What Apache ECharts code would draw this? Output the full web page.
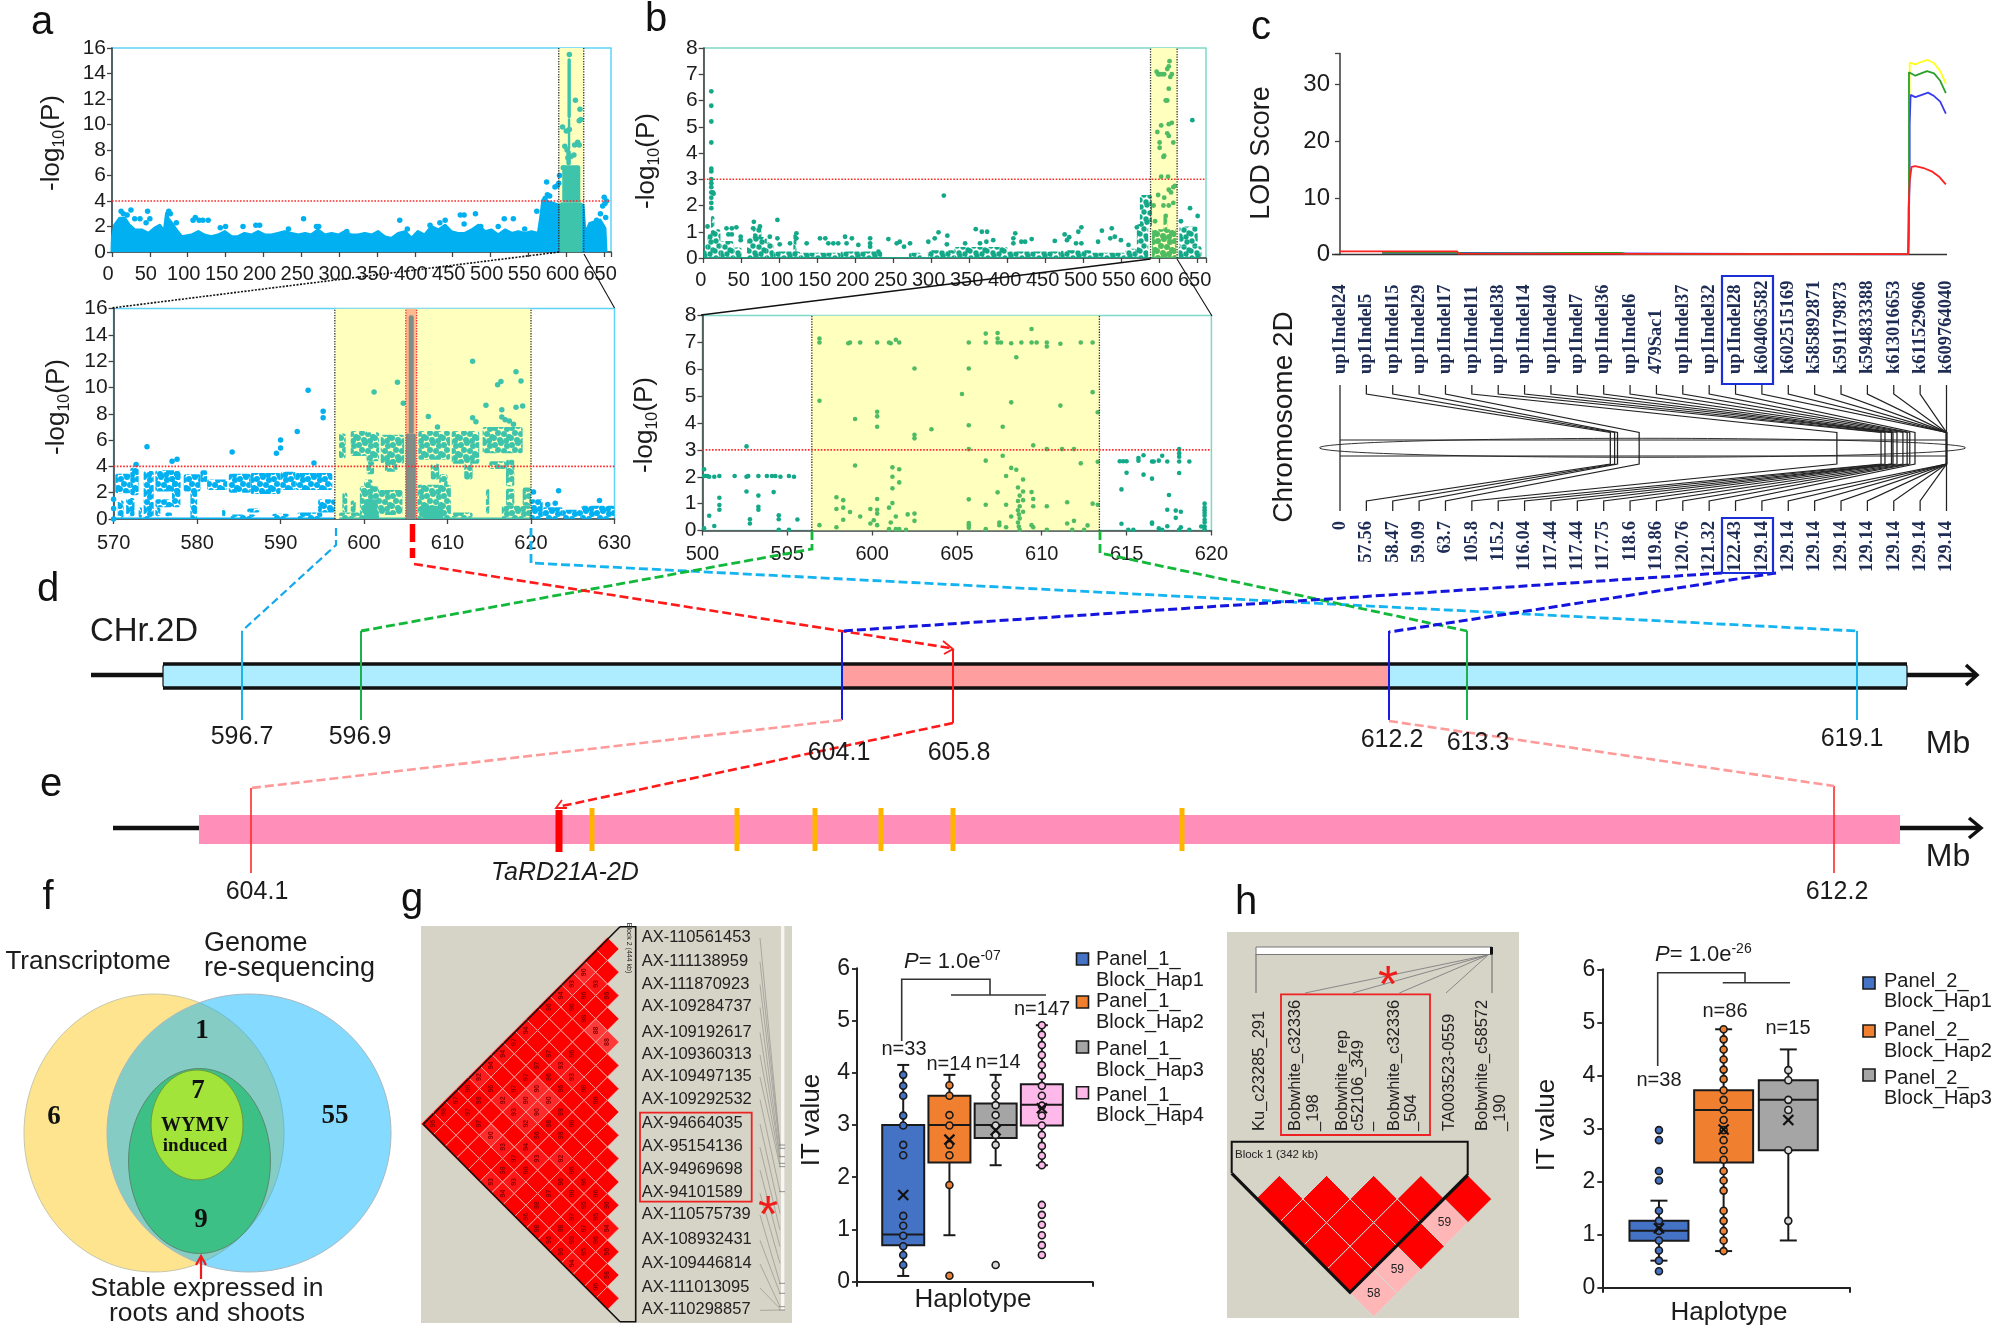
<!DOCTYPE html>
<html><head><meta charset="utf-8">
<style>html,body{margin:0;padding:0;background:#fff}#c{width:2000px;height:1331px}</style>
<script src="https://cdn.jsdelivr.net/npm/echarts@6/dist/echarts.min.js"></script>
</head><body><div id="c"></div>
<script>
/* ---------- DATA ---------- */
const aTopEnvelope=[[0,0],[.5,1.07],[3.5,2.1],[10,2.64],[17,2.64],[23,2.1],[30,1.73],[39,1.73],[48,1.46],[56,1.86],[63,2.1],[69,1.6],[72,3.03],[74,2.64],[81,2.1],[85,1.73],[92,1.2],[105,1.33],[114,1.6],[122,1.33],[131,1.2],[140,1.33],[149,1.6],[158,1.2],[166.5,1.2],[175,1.46],[184,1.33],[193,1.6],[202,1.33],[210.6,1.33],[219,1.46],[228,1.6],[237,1.46],[246,1.33],[255,1.46],[263,1.33],[272,1.73],[281,1.33],[290,1.46],[299,1.33],[307.5,1.6],[316,1.33],[325,1.33],[334,1.46],[343,1.33],[351.5,1.6],[360,1.2],[369,1.07],[378,1.46],[387,1.6],[395.6,1.07],[404,1.6],[413,1.33],[422,2],[431,1.73],[440,2.1],[448,1.6],[457,1.46],[466,1.46],[475,1.73],[484,2.1],[492.5,1.6],[501,1.73],[510,1.33],[519,1.73],[528,1.46],[536.6,1.6],[545,1.46],[554,1.6],[563,1.46],[566,2.64],[569,4.08],[576,3.95],[589,3.69],[622,3.69],[624,2],[625,1.46],[631,2.25],[638,2.38],[644.5,2.5],[651,1.86],[652.4,0]];
const aTopBlueDots=[[15,3],[12,3.2],[25,3.3],[20,2.9],[30,2.6],[37,2.6],[47,3.2],[45,2.3],[50,2.6],[75,3.2],[77,3],[85,2.3],[107,2.5],[110,2.7],[115,2.5],[120,2.5],[127,2.5],[143,1.9],[150,2],[173,2],[190,2.1],[195,2.1],[233,1.8],[253,2.6],[270,2],[273,2],[310,1.6],[380,2.5],[390,1.8],[420,2.1],[433,2.3],[440,2.5],[460,2.9],[465,2.9],[480,3],[465,2.2],[487,2],[510,2],[518,2.6],[530,2.6],[545,1.8],[561,3.2],[574,5.5],[572,4.2],[575,4.5],[578,4.4],[585,5.1],[590,5.4],[591,6],[588,5.2],[630,1.4],[640,2.5],[643,2.3],[645,3],[650,4.3],[651,3.8],[648,3.6],[653,4],[652,2.7]];
const aTopGreenBands=[[591.5,621,0,3.9],[594.6,618.4,3.9,6.8],[600,606,6.8,8],[602,605.2,8,10.5],[601.5,606,10.5,15.2]];
const aTopGreenDots=[[595,9.8],[600,9.5],[601,8],[602,7.4],[598,8.3],[596,6.6],[604,9.6],[612,11.9],[618,11.2],[619,10.4],[617,10.3],[615,8.6],[617,8.4],[611,8.4],[610,7.6],[606,7.5],[604,15.5]];
const aBotBlueBands=[[570.2,572,1.95,3.45],[572,573,1.8,3.9],[573.6,574.8,0,3.65],[575,578,2.1,3.7],[577,578,.9,3.7],[578.4,580.4,2.1,3.4],[579.2,580,0,2.2],[580.4,581.2,2.8,3.7],[581.2,583.6,2.2,3],[583.8,586.4,2,3.45],[586.4,590,1.9,3.5],[590,591.8,2.2,3.6],[591.8,596.2,2.2,3.5],[570.5,571.2,.1,1.4],[571.5,572.5,.2,1.6],[573,573.4,.1,.9],[575,577,.9,1.5],[575,575.6,.2,.9],[576.2,577,.2,.5],[583,583.4,.2,.8],[584,587,.05,.35],[586,587.5,.5,.8],[589,591,.05,.4],[592,595,.05,.5],[594.5,596.5,.5,1.5],[620,621.4,0,1.5],[621.4,623.8,0,.9],[623.8,626,0,.7],[626,630,0,1]];
const aBotBlueBase=[[570,596.5,0,.12]];
const aBotBlueDots=[[593.3,9.8],[595.1,8.2],[595.1,7.7],[592,6.65],[590,6],[590,5.4],[589.5,5],[584.2,5.1],[574,5.5],[572.7,4.15],[577,4.4],[577.6,4.55],[594,4.25],[623.3,2.15],[620.3,2.05],[622,1.1],[622.9,1.2],[628.2,1.4],[570,1.5],[570,.8],[570,0]];
const aBotTealBands=[[597,597.8,4.6,6.5],[598.4,600.4,4.8,6.7],[600.3,601.8,4.4,6.6],[602,604.8,4.2,6.4],[606.5,610.3,4.5,6.7],[610.5,613.8,4.2,6.7],[614.2,619,5,7],[600.3,601.2,3.4,4.4],[602.5,604,3.6,4.6],[608,609,3,4.2],[612,613,3,4.2],[617,618,2.5,4.5],[615,617,3.8,4.4],[600,601,1.8,3],[609,610,2.5,3.4],[599.5,601.8,0,2.5],[601.8,604.6,.3,2.2],[606.4,610.4,0,2.6],[610.5,613,.1,.5],[614.6,615,.4,2.3],[616.5,620,0,1],[617,618,1,2.3],[619,620,1,2.4],[597,599.5,0,.5],[597.4,598,.5,2],[598.4,599,.5,1.4]];
const aBotTealSolid=[[597,620,0,.12],[600,601.6,0,1.5],[607,609.5,0,1]];
const aBotTealDots=[[601.2,9.65],[604,10.4],[604.7,8.8],[607.7,7.8],[613,12],[616,10.2],[616.4,10.45],[618.2,11.2],[618.8,10.5],[614.6,8.65],[616.5,8.3],[618.2,8.5],[619,8.6],[616.5,7.75],[613,7.7],[613.4,7.4],[616.9,7.55],[617.4,7.45],[617.9,7.2],[608.8,7]];
const aBotGrayBands=[[605.35,605.95,6.5,15.5],[605,606.2,0,6.5]];
const bTopBands=[[0,5,0,.6],[5,11,0,.95],[11,22,0,1.1],[9.5,14,.9,1.6],[22,39,0,.65],[39,50,0,.4],[57,83,0,.8],[65,76,.7,1.25],[83,92,0,.6],[92,127,0,.25],[118,122,.2,.95],[127,180,0,.2],[180,235,0,.25],[270,287,0,.2],[295,330,0,.3],[330,400,0,.42],[400,470,0,.25],[470,510,0,.3],[510,555,0,.2],[555,570,0,.35],[570,585,0,1.3],[574,590,1.2,2.4],[625,655,0,.45],[626,650,.45,1.2]];
const bTopGreenBands=[[590,622,0,1.1],[605,610,1,1.6]];
const bTopDots=[[135.5,.56],[153,.75],[160,.75],[164,.56],[170.6,.56],[177,.56],[186,.81],[188,.56],[195,.75],[203.5,.5],[219,.75],[219,.56],[219,.43],[230,.24],[243,.72],[254,.56],[258,.62],[263.6,.43],[271.5,.56],[295.6,.62],[304,.75],[309,.98],[320.6,.85],[320,.52],[344,.56],[358,1.1],[366,1],[373,1],[410,.94],[407.5,.75],[407.5,.56],[418,.62],[423,.62],[431.6,.72],[381,.68],[372,.62],[363.6,.56],[462,.65],[475,.9],[481,.79],[478,.68],[490,.56],[497,.56],[493,1],[497,1.17],[524,1.04],[537,1.13],[541,.81],[535,.75],[549,.68],[519,.62],[559,.5],[48.7,.81],[48.7,.68],[97,1.45],[30,1.13],[37,1.13],[43,1.17],[32.5,.9],[37,.9],[65,1.13],[66,1.38],[74,1.2],[87,.81],[97,.75],[100,.52],[113.6,.56],[122,.94],[122,.75],[570,1.17],[5,1.2],[10,1.9],[10,2.1],[10,2.3],[10,2.5],[10,2.7],[10,2.85],[10,3],[10,3.3],[10,3.4],[10,4.4],[10,5.2],[10,5.8],[10,6.35],[12,2.5],[13,2.45],[316,2.38],[628,1.4],[640,1.9],[650,1.6],[643,5.25]];
const bTopGreenDots=[[596,7.1],[598,7],[600,7],[603,7],[606,7],[610,7.2],[612,7.3],[613,7.5],[616,7],[614,6.9],[612,6.45],[608,6],[610,6],[597,4.8],[602,5.05],[612,5.1],[616,5.15],[610,4.75],[612,4.65],[618,4.4],[600,4.4],[600,4.2],[605,3.85],[606,3.9],[602,3.1],[611,3.1],[598,2.4],[605,2],[606,2.3],[612,2.6],[615,2.5],[618,2.7],[620,2.75],[618,2.1],[608,1.6],[612,2],[592,2],[594,1.4]];
const bBotLeft=[[590.1,2.03],[590.2,2.03],[590.3,2.03],[590.4,2],[590.7,2],[591,2.03],[591.9,2.03],[592.6,2],[592.7,2.03],[593.3,2.03],[593.8,2.03],[594.1,2.03],[594.3,2.03],[594.6,2],[595.1,2.03],[595.4,2],[590.1,2.28],[592.6,3.13],[590.4,.55],[590.7,.17],[590.1,.08],[591,1.22],[591,.95],[591,.77],[592.6,1.45],[592.8,.42],[592.8,.26],[593.3,1.3],[593.3,.88],[593.3,.77],[594.2,1.43],[594.5,.57],[594.5,.42],[595.6,.41],[594.5,.03],[595.1,.03]];
const bBotMid=[[596.9,7],[596.9,7.15],[598.6,6.97],[598.7,7],[599.3,7],[600.3,7],[601,7],[601.1,6.97],[601.4,7.1],[601.6,7],[605.7,7],[606.7,7],[606.7,7.33],[607.4,7],[607.4,7.35],[607.4,7.15],[607.6,7],[608.2,6.97],[608.8,7],[609.4,7],[609.7,7],[610.3,7],[610.3,6.85],[611.1,6.95],[612.3,7],[613,7],[609.4,7.5],[608.5,6.45],[602.5,6.03],[605.7,6.03],[605.3,5.08],[613,5.15],[596.9,4.83],[608.2,4.77],[611.1,4.65],[600.3,4.42],[600.3,4.25],[613.3,4.4],[599,4.15],[600.3,3.86],[605.7,3.92],[607.7,3.86],[603.5,3.77],[602.5,3.56],[602.5,3.43],[609.5,3.17],[605.7,3.03],[610.3,3.03],[611.2,3.03],[611.9,3.03],[606.7,2.6],[607.7,2.78],[612.3,2.5],[613.3,2.56],[599,2.42],[601.2,2.35],[601.6,2.28],[608.2,2.33],[608.5,2.26],[601.2,2],[607.9,2.03],[608.9,1.9],[601.6,1.79],[601.2,1.57],[597.9,1.24],[598.3,1.13],[600.3,1.17],[605.7,1.16],[607.4,1.42],[609.4,1.43],[609.5,1.17],[608.9,1.13],[611.5,1.05],[601.2,1.02],[606.7,.96],[607.9,.96],[609.5,.9],[610.3,.9],[613,1],[613.3,.96],[598.3,.85],[597.9,.8],[599.9,.8],[600.3,.77],[601,.85],[598.7,.69],[600.3,.63],[602.1,.6],[602.5,.63],[599.3,.52],[601.4,.52],[598.3,.4],[600.1,.38],[602.5,.36],[601.1,.3],[608.2,.52],[608.6,1.6],[608.7,1.3],[608.6,1.1],[608.7,.9],[608.6,.75],[608.65,.6],[608.7,.45],[608.6,.3],[608.65,.15],[608.7,.03],[608.9,1.45],[608.9,.7],[611.5,.26],[611.9,.36],[612.7,.19],[596.9,.2],[597.9,.12],[599.9,.26],[600.3,.2],[605.7,.1],[605.7,.2],[605.7,.28],[607.5,.3],[607.5,.2],[607.9,.12],[609.4,.2],[609.5,.12],[610.3,.03],[611.8,.03],[612.5,.03],[602,.03],[601.4,.05],[601.6,.05],[601,.05],[606.7,.05]];
const bBotRight=[[614.6,2.58],[614.8,2.58],[615,2.58],[615.7,2.6],[615.7,2.7],[616,2.8],[616.5,2.57],[616.6,2.57],[616.9,2.6],[617.1,2.78],[617.4,2.57],[618.1,2.57],[618.1,2.75],[618.1,3.03],[618.1,2.88],[618.7,2.57],[615,2.15],[616,2.08],[616.5,1.93],[618.1,2.14],[614.7,1.53],[617.5,1.32],[617.4,.77],[617.9,.74],[618.2,.7],[617.9,.47],[614.7,.25],[616.5,.3],[616.5,.25],[617.4,.16],[616.9,.08],[617.1,.03],[615.1,.03],[615.4,.03],[618.2,.12],[618.1,.03],[618.7,.03],[619.6,1],[619.6,.85],[619.6,.75],[619.6,.65],[619.6,.55],[619.6,.4],[619.6,.3],[619.6,.15],[619.6,.05],[619.4,.15]];

const markerNames=['up1Indel24','up1Indel5','up1Indel15','up1Indel29','up1Indel17','up1Indel11','up1Indel38','up1Indel14','up1Indel40','up1Indel7','up1Indel36','up1Indel6','479Sac1','up1Indel37','up1Indel32','up1Indel28','k604063582','k602515169','k585892871','k591179873','k594833388','k613016653','k611529606','k609764040'];
const markerCM=[0,57.56,58.47,59.09,63.7,105.8,115.2,116.04,117.44,117.44,117.75,118.6,119.86,120.76,121.32,122.43,129.14,129.14,129.14,129.14,129.14,129.14,129.14,129.14];
const lodYellow=[[121.25,25],[121.3,33.9],[122.5,33.6],[124,34.1],[125.1,34.4],[126.5,33.8],[127.8,32.4],[129,30.2]];
const lodGreen=[[9,.35],[25,.35],[26,.2],[40,.2],[49,.3],[60,.3],[61,.05],[121,.05],[121.15,4],[121.15,32.2],[122.5,31.6],[124,32.1],[125,32.4],[126.5,32],[127.8,30.7],[129,28.5]];
const lodBlue=[[9,.3],[25,.3],[121,.03],[121.3,14],[121.3,23],[121.5,28.2],[122.5,27.8],[124.5,28.4],[125.2,28.6],[126.5,28],[127.8,27],[129,24.9]];
const lodRed=[[0,.55],[25,.55],[25.1,.15],[60,.1],[121,.05],[121.05,8],[121.3,13],[121.7,15.5],[122.5,15.6],[124.5,15.2],[126,14.7],[127.5,13.8],[129,12.4]];

const chromoDLabels=['596.7','596.9','604.1','605.8','612.2','613.3','619.1'];
const axG=['AX-110561453','AX-111138959','AX-111870923','AX-109284737','AX-109192617','AX-109360313','AX-109497135','AX-109292532','AX-94664035','AX-95154136','AX-94969698','AX-94101589','AX-110575739','AX-108932431','AX-109446814','AX-111013095','AX-110298857'];
const ldGLow=[[0,3,90],[0,4,93],[1,3,93],[0,5,94],[1,4,96],[2,3,96],[0,6,96],[1,5,96],[2,5,98],[3,5,88],[4,5,88],[0,8,94],[0,9,97],[2,8,97],[3,7,96],[0,10,94],[0,11,94],[2,9,97],[3,8,93],[0,12,92],[2,10,97],[3,9,96],[4,8,93],[0,13,98],[1,12,96],[2,11,97],[3,10,90],[4,9,96],[5,8,98],[0,14,97],[1,13,98],[2,12,92],[3,11,90],[4,10,90],[6,8,98],[0,15,98],[1,14,97],[3,12,93],[4,11,90],[5,10,98],[0,16,96],[2,14,97],[4,12,92],[5,11,98],[6,10,98],[3,14,90],[5,12,96],[6,11,98],[4,14,93],[5,13,94],[5,14,97],[6,13,93],[7,12,92],[5,15,98],[6,14,98],[8,12,96],[5,16,93],[6,15,93],[8,13,96],[9,12,96],[6,16,94],[8,14,97],[9,13,98],[10,12,96],[8,15,98],[10,13,95],[11,12,96],[8,16,96],[10,14,97],[11,13,95],[9,16,98],[10,15,98],[11,14,97],[12,13,94],[10,16,96],[11,15,98],[12,14,96],[11,16,96],[12,15,95],[13,14,96],[12,16,94],[14,15,98],[14,16,96]];
const ldHLow=[[0,5,58],[1,5,59],[3,5,59]];

const hapColors1=['#4472c4','#f08030','#a5a5a5','#ffb8ea'];
const hapColors2=['#4472c4','#f08030','#a5a5a5'];
const box1=[[1,.11,.7,.906,3,4.15,1.66],[2,.89,2.28,3,3.56,3.96,2.72],[3,2.23,2.75,3,3.41,3.96,2.9],[4,2.23,2.99,3.39,3.78,4.91,3.32]];
const box1Pts=[[3.96,3.75,3.56,3.18,2.99,2.62,2.42,1.26,1.07,.88,.68,.51,.32],[3.76,3.56,3.19,2.99,2.62,2.42,1.85,.115],[3.76,3.56,3.38,3.19,2.99,2.81,2.62,.32],[4.91,4.73,4.53,4.34,4.15,3.94,3.75,3.56,3.37,3.18,2.99,2.81,2.6,2.41,2.23,1.47,1.28,1.09,.89,.7,.51]];
const box2=[[.876,.51,.886,1.074,1.263,1.64,1.12],[1.876,.69,2.36,3.35,3.72,4.87,2.98],[2.876,.89,2.59,3.54,3.91,4.49,3.16]];
const box2Pts=[[2.97,2.78,2.2,2.02,1.45,1.26,1.07,.89,.7,.51,.31],[4.87,4.68,4.49,4.3,4.11,3.93,3.72,3.54,3.35,3.16,2.97,2.78,2.59,2.41,2.2,2.02,1.83,1.45,1.26,1.07,.89,.69],[4.1,3.91,3.54,3.35,2.59,1.26]];

/* ---------- helpers ---------- */
const SANS='"Liberation Sans",Arial,sans-serif', SERIF='"Liberation Serif",serif', INK='#1c1c1c';
const grids=[],xAxes=[],yAxes=[],series=[],gfx=[];
function addGrid(l,t,r,b,border){grids.push({left:l,top:t,width:r-l,height:b-t,show:!!border,borderColor:border||'transparent',borderWidth:1.5,backgroundColor:'transparent',containLabel:false});return grids.length-1;}
function dotTile(color,r){const c=document.createElement('canvas');c.width=c.height=17;const g=c.getContext('2d');g.fillStyle=color;
 const base=[[2,3],[8,1],[14,4],[5,8],[11,9],[16,12],[1,13],[7,15],[13,16]];
 base.forEach(p=>[-17,0,17].forEach(dx=>[-17,0,17].forEach(dy=>{g.beginPath();g.arc(p[0]+dx,p[1]+dy,r,0,7);g.fill();})));return{image:c,repeat:'repeat'};}
function bands(g,x,y,data,fill,z){series.push({type:'custom',xAxisIndex:x,yAxisIndex:y,z:z,silent:true,clip:true,data:data,encode:{x:[0,1],y:[2,3]},
 renderItem:(p,api)=>{const a=api.coord([api.value(0),api.value(3)]),b=api.coord([api.value(1),api.value(2)]);
  return{type:'rect',shape:{x:a[0],y:a[1],width:b[0]-a[0],height:b[1]-a[1],r:2},style:{fill:fill}};}});}
function dots(x,y,data,color,size,z){series.push({type:'scatter',xAxisIndex:x,yAxisIndex:y,z:z,silent:true,symbolSize:size,itemStyle:{color:color,opacity:1},data:data,clip:false});}
function ln(x,y,pts,color,w,type,z){series.push({type:'line',xAxisIndex:x,yAxisIndex:y,z:z,silent:true,showSymbol:false,symbol:'none',lineStyle:{color:color,width:w,type:type||'solid'},data:pts,animation:false});}
function axisBase(extra){return Object.assign({type:'value',splitLine:{show:false},axisLine:{show:true,onZero:false,lineStyle:{color:'#444',width:1.6}},axisTick:{show:true,length:5,lineStyle:{color:'#444',width:1.3}},axisLabel:{color:INK,fontFamily:SANS,fontSize:21,margin:6,hideOverlap:false}},extra);}
function addPlot(g,xopt,yopt){xAxes.push(axisBase(Object.assign({gridIndex:g,position:'bottom'},xopt)));yAxes.push(axisBase(Object.assign({gridIndex:g,position:'left'},yopt)));return[xAxes.length-1,yAxes.length-1];}
const T=(text,x,y,size,o={})=>gfx.push({type:'text',x:x,y:y,rotation:o.rot||0,z:o.z||20,silent:true,style:{text:text,fill:o.color||INK,align:o.align||'center',verticalAlign:'middle',font:(o.style?o.style+' ':'')+size+'px '+(o.family||SANS),rich:o.rich}});
const L=(pts,color,w,dash,z)=>gfx.push({type:'polyline',silent:true,z:z==null?15:z,shape:{points:pts},style:{stroke:color,lineWidth:w,lineDash:dash||null,fill:null}});
const R=(x,y,w,h,fill,stroke,lw,z,r)=>gfx.push({type:'rect',silent:true,z:z==null?1:z,shape:{x:x,y:y,width:w,height:h,r:r||0},style:{fill:fill||'none',stroke:stroke||null,lineWidth:lw||0}});
const E=(cx,cy,rx,ry,fill,stroke,z)=>gfx.push({type:'ellipse',silent:true,z:z==null?3:z,shape:{cx:cx,cy:cy,rx:rx,ry:ry},style:{fill:fill,stroke:stroke||null,lineWidth:stroke?1:0}});
const logRich={m:{fontSize:26,fontFamily:SANS,lineHeight:32,fill:INK},s:{fontSize:16,fontFamily:SANS,lineHeight:16,verticalAlign:'bottom',fill:INK}};
const logLabel=(x,y)=>T('{m|-log}{s|10}{m|(P)}',x,y,26,{rot:Math.PI/2,rich:logRich});

const BLUE='#00b0f0',TEAL='#3fc4ac',bTeal='#12a888',bGreen='#4fbc64';
const noExtra=(step)=>(v=>v%step===0?String(v):'');

/* ---------- a ---------- */
const aTop=addGrid(112,48,611,252,'#5fd3f7');
let [ax,ay]=addPlot(aTop,{min:0,max:659,interval:50,axisLabel:{color:INK,fontFamily:SANS,fontSize:20,margin:12,padding:[0,8,0,0],formatter:noExtra(50),hideOverlap:false}},{min:0,max:16,interval:2});
bands(aTop,ax,ay,[[590,623,0,16]],'#ffffbe',1);
series.push({type:'line',xAxisIndex:ax,yAxisIndex:ay,z:3,silent:true,showSymbol:false,symbol:'none',clip:true,lineStyle:{color:BLUE,width:3,join:'round'},areaStyle:{color:BLUE,opacity:1},data:aTopEnvelope});
dots(ax,ay,aTopBlueDots,BLUE,5.5,4);
bands(aTop,ax,ay,aTopGreenBands,TEAL,5);
dots(ax,ay,aTopGreenDots,TEAL,5.5,6);
ln(ax,ay,[[590,0],[590,16]],'#333',1.3,'dotted',7);ln(ax,ay,[[623,0],[623,16]],'#333',1.3,'dotted',7);
ln(ax,ay,[[0,4],[659,4]],'#ff2a2a',1.6,'dotted',8);
logLabel(52,143);

const aBot=addGrid(113.6,308.6,614.5,519,'#5fd3f7');
[ax,ay]=addPlot(aBot,{min:570,max:630,interval:10,axisLabel:{color:INK,fontFamily:SANS,fontSize:20,margin:14,hideOverlap:false}},{min:0,max:16,interval:2});
bands(aBot,ax,ay,[[596.5,620,0,16]],'#ffffbe',1);
bands(aBot,ax,ay,[[605,606.3,0,16]],'#ffb98e',2);
bands(aBot,ax,ay,aBotBlueBands,dotTile(BLUE,3),3);
bands(aBot,ax,ay,aBotBlueBase,BLUE,3);
dots(ax,ay,aBotBlueDots,BLUE,5.5,4);
bands(aBot,ax,ay,aBotTealBands,dotTile(TEAL,3),3);
bands(aBot,ax,ay,aBotTealSolid,TEAL,3);
dots(ax,ay,aBotTealDots,TEAL,5.5,4);
bands(aBot,ax,ay,aBotGrayBands,'#7f8c88',5);
ln(ax,ay,[[596.5,0],[596.5,16]],'#333',1.3,'dotted',7);ln(ax,ay,[[620,0],[620,16]],'#333',1.3,'dotted',7);
ln(ax,ay,[[605,0],[605,16]],'#ff2a2a',1.3,'dotted',7);ln(ax,ay,[[606.3,0],[606.3,16]],'#ff2a2a',1.3,'dotted',7);
ln(ax,ay,[[570,4],[630,4]],'#ff2a2a',1.6,'dotted',8);
logLabel(57,407);

/* ---------- b ---------- */
const bTop=addGrid(703.7,48,1206,258,'#7fd8c8');
[ax,ay]=addPlot(bTop,{min:0,max:661,interval:50,axisLabel:{color:INK,fontFamily:SANS,fontSize:20,margin:12,padding:[0,6,0,0],formatter:noExtra(50),hideOverlap:false}},{min:0,max:8,interval:1});
bands(bTop,ax,ay,[[588,623,0,8]],'#ffffbe',1);
bands(bTop,ax,ay,bTopBands,dotTile(bTeal,2.7),3);
bands(bTop,ax,ay,[[0,652,0,.04]],bTeal,3);
dots(ax,ay,bTopDots,bTeal,4.8,4);
bands(bTop,ax,ay,bTopGreenBands,dotTile(bGreen,3),3);
dots(ax,ay,bTopGreenDots,bGreen,4.8,4);
ln(ax,ay,[[588,0],[588,8]],'#333',1.3,'dotted',7);ln(ax,ay,[[623,0],[623,8]],'#333',1.3,'dotted',7);
ln(ax,ay,[[0,3],[661,3]],'#ff2a2a',1.6,'dotted',8);
logLabel(646.5,161);

const bBot=addGrid(702.4,315.6,1211.4,530.5,'#7fd8c8');
[ax,ay]=addPlot(bBot,{min:590,max:620,interval:5,axisLabel:{color:INK,fontFamily:SANS,fontSize:20,margin:14,hideOverlap:false,formatter:v=>v===590?'500':String(v)}},{min:0,max:8,interval:1});
bands(bBot,ax,ay,[[596.45,613.4,0,8]],'#ffffbe',1);
dots(ax,ay,bBotLeft,bTeal,4.6,4);
dots(ax,ay,bBotMid,bGreen,4.6,4);
dots(ax,ay,bBotRight,bTeal,4.6,4);
ln(ax,ay,[[596.45,0],[596.45,8]],'#333',1.3,'dotted',7);ln(ax,ay,[[613.4,0],[613.4,8]],'#333',1.3,'dotted',7);
ln(ax,ay,[[590,3],[620,3]],'#ff2a2a',1.6,'dotted',8);
logLabel(644.5,425);

/* ---------- c ---------- */
const lod=addGrid(1340,53.6,1946.5,254.5);
[ax,ay]=addPlot(lod,{min:0,max:129.14,interval:129.14,axisTick:{show:false},axisLabel:{show:false},axisLine:{show:false}},{min:0,max:35.5,interval:10,axisLabel:{color:INK,fontFamily:SANS,fontSize:24,margin:10,formatter:v=>v%10===0?String(v):''}});
ln(ax,ay,lodYellow,'#ffff20',1.8,'solid',3);ln(ax,ay,lodBlue,'#3a3af0',1.8,'solid',4);ln(ax,ay,lodGreen,'#2ca02c',1.8,'solid',5);ln(ax,ay,lodRed,'#ff2020',1.8,'solid',6);
L([[1332,254.5],[1947,254.5]],'#333',1.6,null,2);
T('LOD Score',1262,153,27,{rot:Math.PI/2});
T('Chromosome 2D',1284,417,28,{rot:Math.PI/2});

const mapG=addGrid(1340,385,1946.5,511);
xAxes.push({type:'value',gridIndex:mapG,show:false,min:0,max:129.14});
const mapX=xAxes.length-1;
yAxes.push({type:'value',gridIndex:mapG,show:false,min:385,max:511,inverse:true});
const mapY=yAxes.length-1;
series.push({type:'custom',xAxisIndex:mapX,yAxisIndex:mapY,z:4,silent:true,clip:false,data:markerCM.map((c,i)=>[c,i]),
 renderItem:(p,api)=>{const c=api.value(0),i=api.value(1),m=i/23*129.14;
  const pts=[[m,385],[m,394],[c,432.5],[c,440],[c,456],[c,464],[m,501],[m,511]].map(q=>api.coord(q));
  return{type:'polyline',shape:{points:pts},style:{stroke:'#222',lineWidth:1.25,fill:null}};}});
markerNames.forEach((s,i)=>T(s,1340+i/23*606.5,374,18.5,{rot:Math.PI/2,align:'left',style:'bold',family:SERIF,color:'#1f2d55'}));
markerCM.forEach((s,i)=>T(String(s),1340+i/23*606.5,521,18.5,{rot:Math.PI/2,align:'right',style:'bold',family:SERIF,color:'#1f2d55'}));
E(1642.5,447.8,323,9.5,'none','#333',2);
L([[1340,440],[1946.5,440]],'#222',1.2);L([[1340,456],[1946.5,456]],'#222',1.2);
R(1722,276,51,108,null,'#1a2fd6',2.2,16);R(1722,518,51,55,null,'#1a2fd6',2.2,16);

/* ---------- LD cells ---------- */
function ldCells(n,low){const m={};low.forEach(r=>m[r[0]+'_'+r[1]]=r[2]);const out=[];for(let i=0;i<n;i++)for(let j=i+1;j<n;j++){out.push([(i+j)/2,j-i,m[i+'_'+j]==null?100:m[i+'_'+j]]);}return out;}
function ldColor(v){if(v>=95)return'#ff0000';if(v<80)return'#ffb6b6';const k=Math.round((96-v)*7);return`rgb(255,${k},${k})`;}
function ldSeries(g,x,y,cells,horizontal,stroke,sw,font,textColor,rot){series.push({type:'custom',xAxisIndex:x,yAxisIndex:y,z:3,silent:true,clip:false,data:cells,
 renderItem:(p,api)=>{const a=api.value(0),d=api.value(1),v=api.value(2);
  const P=(horizontal?[[a-.5,d],[a,d-1],[a+.5,d],[a,d+1]]:[[d-1,a],[d,a-.5],[d+1,a],[d,a+.5]]).map(q=>api.coord(q));
  const c=api.coord(horizontal?[a,d]:[d,a]);
  const kids=[{type:'polygon',shape:{points:P},style:{fill:ldColor(v),stroke:stroke,lineWidth:sw}}];
  if(v<100)kids.push({type:'text',x:c[0],y:c[1],rotation:rot,style:{text:String(v),fill:textColor,font:font,align:'center',verticalAlign:'middle'}});
  return{type:'group',children:kids};}});}

/* ---------- g ---------- */
R(421,926,371,397,'#d6d3c7');
const ldG=addGrid(421.2,937.3,619,1310);
xAxes.push({type:'value',gridIndex:ldG,show:false,min:0,max:17,inverse:true});
yAxes.push({type:'value',gridIndex:ldG,position:'right',min:0,max:16,interval:1,inverse:true,splitLine:{show:false},axisLine:{show:false},axisTick:{show:false},axisLabel:{rotate:90,margin:-1,fontSize:8,fontFamily:SANS,color:'#222',formatter:v=>String(v+9)}});
ldSeries(ldG,xAxes.length-1,yAxes.length-1,ldCells(17,ldGLow),false,'#ffb0a8',.8,'bold 7px '+SANS,'#8a0000',Math.PI/2);
L([[620,926.7],[423.3,1124.3],[620,1321.7]],'#111',1.6,null,6);
L([[620,926.7],[635.7,926.7],[635.7,1321.7],[620,1321.7]],'#111',1.6,null,6);
T('Block 2 (444 kb)',629,948,7,{rot:-Math.PI/2});
const axY=[172,243,312,380,456,523,590,657,730,800,868,938,1003,1079,1150,1222,1289];
const barY=[795,800,805,830,835,850,860,935,1000,1050,1100,1150,1210,1240,1280,1286,1290];
axG.forEach((s,i)=>{T(s,641.7,880+axY[i]/3,16.5,{align:'left',color:'#222'});L([[760,880+(axY[i]+2)/3],[780,880+barY[i]/3]],'#a4a29a',.9,null,4);});
R(781,926,3.4,384,'#f6f6f2',null,0,4);
[795,805,830,850,860,935,1210,1240,1280,1290].forEach(z=>L([[779,880+z/3],[785,880+z/3]],'#777',.8,null,5));
R(640,1112.7,111.7,89,null,'#ee2222',1.8,16);
T('*',768,1218,52,{color:'#f01c1c',family:SANS});

/* ---------- box plots ---------- */
function boxSeries(x,y,rows,colors,boxW,capW){
 series.push({type:'custom',xAxisIndex:x,yAxisIndex:y,z:3,silent:true,clip:false,data:rows,encode:{x:0,y:[1,5]},
 renderItem:(p,api)=>{const v=[0,1,2,3,4,5].map(i=>api.value(i));const c=api.coord([v[0],0])[0];const Y=w=>api.coord([v[0],w])[1];const S={stroke:'#1a1a1a',lineWidth:2};
  const seg=(x1,y1,x2,y2)=>({type:'line',shape:{x1,y1,x2,y2},style:S});
  return{type:'group',children:[seg(c,Y(v[1]),c,Y(v[5])),seg(c-capW/2,Y(v[1]),c+capW/2,Y(v[1])),seg(c-capW/2,Y(v[5]),c+capW/2,Y(v[5])),
   {type:'rect',shape:{x:c-boxW/2,y:Y(v[4]),width:boxW,height:Y(v[2])-Y(v[4])},style:{fill:colors[p.dataIndex],stroke:'#1a1a1a',lineWidth:2}},
   seg(c-boxW/2,Y(v[3]),c+boxW/2,Y(v[3]))]};}});}
function boxPts(x,y,rows,pts,colors){pts.forEach((a,i)=>series.push({type:'scatter',xAxisIndex:x,yAxisIndex:y,z:4,silent:true,symbolSize:7,clip:false,itemStyle:{color:colors[i]===hapColors1[2]?'#d8d8d8':colors[i],borderColor:'#1a1a1a',borderWidth:1.6,opacity:1},data:a.map(v=>[rows[i][0],v])}));}
function meanSeries(x,y,rows){series.push({type:'custom',xAxisIndex:x,yAxisIndex:y,z:5,silent:true,clip:false,data:rows.map(r=>[r[0],r[6]]),
 renderItem:(p,api)=>{const c=api.coord([api.value(0),api.value(1)]),r=5;const S={stroke:'#111',lineWidth:2.2};
  return{type:'group',children:[{type:'line',shape:{x1:c[0]-r,y1:c[1]-r,x2:c[0]+r,y2:c[1]+r},style:S},{type:'line',shape:{x1:c[0]-r,y1:c[1]+r,x2:c[0]+r,y2:c[1]-r},style:S}]};}});}
const boxAxis={axisLabel:{show:false},axisLine:{show:true,lineStyle:{color:'#222',width:2}},axisTick:{show:true,length:5,lineStyle:{color:'#222',width:2}}};
const yBox={min:0,max:6,interval:1,axisLine:{show:true,lineStyle:{color:'#222',width:2}},axisTick:{show:true,length:5,lineStyle:{color:'#222',width:1.8}},axisLabel:{color:INK,fontFamily:SANS,fontSize:23,margin:7}};
const pRich={i:{fontSize:22,fontStyle:'italic',fontFamily:SANS,fill:INK,lineHeight:26},m:{fontSize:22,fontFamily:SANS,fill:INK,lineHeight:26},u:{fontSize:14,fontFamily:SANS,fill:INK,verticalAlign:'top',lineHeight:14}};

const boxG=addGrid(857,968.3,1092.7,1281.7);
[ax,ay]=addPlot(boxG,Object.assign({min:0,max:5.1,interval:5.1},boxAxis),yBox);
boxSeries(ax,ay,box1,hapColors1,42,12);boxPts(ax,ay,box1,box1Pts,hapColors1);meanSeries(ax,ay,box1);
L([[901.7,1041],[901.7,979.3],[990,979.3],[990,995]],'#333',1.6);L([[951,995],[1046,995]],'#333',1.6);
T('{i|P}{m|= 1.0e}{u|-07}',904,962,22,{align:'left',rich:pRich});
[['n=33',904,1049],['n=14',949,1064],['n=14',998,1062],['n=147',1042,1009]].forEach(a=>T(a[0],a[1],a[2],20));
T('IT value',812,1120,26,{rot:Math.PI/2});T('Haplotype',973,1300,26);
[['1',959,959.3,980],['2',1002,1001.7,1022],['3',1047,1049,1070],['4',1092.7,1095,1115.7]].forEach((a,i)=>{R(1076.5,a[1]-6,12,12,hapColors1[i],'#1a1a1a',1.6,10);T('Panel_1_',1096,a[2],20,{align:'left'});T('Block_Hap'+a[0],1096,a[3],20,{align:'left'});});

/* ---------- h ---------- */
R(1227,932,292,386,'#d6d3c7');
R(1256,947,236,7.5,'#ffffff','#777',1,4);R(1490,947,3,7.5,'#111',null,0,5);
L([[1256,954],[1256,993]],'#777',1.2,null,4);L([[1492,954],[1492,993]],'#777',1.2,null,4);
[1305,1352.7,1399.3,1446].forEach(x=>L([[1488,955],[x,993]],'#888',1,null,4));
R(1281,994.3,149,140.7,null,'#ee2222',1.8,16);
T('*',1388,988,52,{color:'#f01c1c'});
[['Ku_c23285_291',1259],['Bobwhite_c32336',1295],['_198',1313],['Bobwhite_rep',1342],['c52106_349',1358],['_',1366],['Bobwhite_c32336',1394],['_504',1411.7],['TA003523-0559',1449],['Bobwhite_c58572',1482],['_190',1500]].forEach(a=>T(a[0],a[1],1131,16.5,{rot:Math.PI/2,align:'left',color:'#222'}));
const ldH=addGrid(1255.7,1175.4,1491.7,1317);
xAxes.push({type:'value',gridIndex:ldH,position:'top',min:0,max:5,interval:1,splitLine:{show:false},axisLine:{show:false},axisTick:{show:false},axisLabel:{margin:-2,fontSize:12,fontWeight:'bold',fontFamily:SANS,color:'#222',formatter:v=>String(v+1)}});
yAxes.push({type:'value',gridIndex:ldH,show:false,min:0,max:6,inverse:true});
ldSeries(ldH,xAxes.length-1,yAxes.length-1,ldCells(6,ldHLow),true,'#cfe0d8',1,'12px '+SANS,'#222',0);
L([[1231.7,1173.3],[1231.7,1141.7],[1467.7,1141.7],[1467.7,1175]],'#111',2,null,6);
L([[1231.7,1173.3],[1350,1292.3],[1467.7,1175]],'#111',3.2,null,6);
T('Block 1 (342 kb)',1235,1155,11.5,{align:'left',color:'#222'});

const boxH=addGrid(1602.3,969.3,1850,1287.7);
[ax,ay]=addPlot(boxH,Object.assign({min:0,max:3.83,interval:3.83},boxAxis),yBox);
boxSeries(ax,ay,box2,hapColors2,59,17);boxPts(ax,ay,box2,box2Pts,hapColors2);meanSeries(ax,ay,box2);
L([[1657.7,1066],[1657.7,972.7],[1745,972.7],[1745,982.7]],'#333',1.6);L([[1722.7,982.7],[1790,982.7]],'#333',1.6);
T('{i|P}{m|= 1.0e}{u|-26}',1655,955,22,{align:'left',rich:pRich});
[['n=38',1659,1080],['n=86',1725,1011],['n=15',1788,1028]].forEach(a=>T(a[0],a[1],a[2],20));
T('IT value',1547,1125,26,{rot:Math.PI/2});T('Haplotype',1729,1313,26);
[['1',983,981,1001],['2',1031,1030,1051],['3',1075,1078,1098]].forEach((a,i)=>{R(1863,a[1]-6,12,12,hapColors2[i],'#1a1a1a',1.6,10);T('Panel_2_',1884,a[2],20,{align:'left'});T('Block_Hap'+a[0],1884,a[3],20,{align:'left'});});

/* ---------- d ---------- */
L([[91,675],[163,675]],'#111',4.5,null,5);L([[1907,675],[1975,675]],'#111',4.5,null,5);L([[1966,665],[1977,675],[1966,685]],'#111',3.5,null,5);
R(163,664,1744,24,'#aeecff','#111',1.2,6,3);R(842,664.5,547,23,'#ff9e9e',null,0,7);
L([[163,664],[1907,664]],'#111',3.5,null,8);L([[163,688],[1907,688]],'#111',3.5,null,8);
const dropsD=[[242,631,720,'#1ab5ea'],[361,631,720,'#1db14b'],[842,631,720,'#1a1ae0'],[953,649,723,'#ff1a1a'],[1389,631,720,'#1a1ae0'],[1467,631,720,'#1db14b'],[1857,631,720,'#1ab5ea']];
dropsD.forEach(a=>L([[a[0],a[1]],[a[0],a[2]]],a[3],2,null,9));
const dLabelPos=[[242,737],[360,737],[839,753],[959,753],[1392,740],[1478,743],[1852,739]];
chromoDLabels.forEach((s,i)=>T(s,dLabelPos[i][0],dLabelPos[i][1],25));
T('Mb',1948,744,32);T('CHr.2D',144,632,33);

/* ---------- e ---------- */
L([[113,828],[199,828]],'#111',4.5,null,5);L([[1900,828],[1979,828]],'#111',4.5,null,5);L([[1969,818],[1981,828],[1969,838]],'#111',3.5,null,5);
R(199,815,1701,29,'#ff8fb8',null,0,6);
L([[251,788],[251,873]],'#ff2a2a',1.6,null,9);L([[1834,786],[1834,873]],'#ff2a2a',1.6,null,9);
[592,737,815,881,953,1182].forEach(x=>L([[x,808],[x,851]],'#ffb400',5,null,9));
L([[559,810],[559,852]],'#ff0000',7,null,10);
T('604.1',257,892,25);T('612.2',1837,892,25);T('Mb',1948,857,32);T('TaRD21A-2D',565,873,25,{style:'italic'});

/* ---------- connectors ---------- */
const dash=[9,4];
L([[559,252],[111.5,308]],'#111',1.6,[2,1.5],12);L([[584,254],[614.5,308]],'#111',1.1,null,12);
L([[1150.6,259],[701,315]],'#111',1.3,null,12);L([[1177,259],[1212,316]],'#111',1.1,null,12);
L([[336,528],[336,545],[242,631]],'#14a8ee',2.2,[8,4]);L([[531,528],[531,563],[1857,631]],'#14b4f0',2.8,dash);
L([[812,531],[812,549],[361,631]],'#12b83a',2.8,dash);L([[1100,531],[1100,553],[1467,631]],'#12b83a',2.8,dash);
L([[412.5,524],[412.5,542]],'#ff0000',5.5);L([[412.5,548],[412.5,558]],'#ff0000',5.5);
L([[414,564],[950,648]],'#ff1a1a',2.6,dash);L([[943,641],[953,649],[944,654]],'#ff1a1a',1.8);
L([[1722,573],[842,631]],'#1515e0',3,dash);L([[1776,573],[1389,632]],'#1515e0',3,dash);
L([[842,720],[251,788]],'#ff9a9a',2.6,dash);L([[1389,721],[1834,786]],'#ff9a9a',2.6,dash);
L([[953,723],[562,806]],'#ff1a1a',2.6,dash);L([[562,800],[556,808],[567,808]],'#ff1a1a',1.8);

/* ---------- f ---------- */
E(154,1133,130,139,'#fee48f','#c8c8a8');E(249,1133,142,139,'rgba(0,178,255,0.48)','#a8b8c0',4);
E(199.5,1161,71,92.5,'#3cc086','#5a8a70',5);E(197,1125,46,55,'#a2e43a','#6a9a40',6);
T('Transcriptome',88,962,26);T('Genome',204,944,27,{align:'left'});T('re-sequencing',204,969,27,{align:'left'});
[['6',54,1117],['1',202,1031],['7',198,1091],['55',335,1116],['9',201,1220]].forEach(a=>T(a[0],a[1],a[2],27,{style:'bold',family:SERIF,color:'#111'}));
T('WYMV',195,1126,20,{style:'bold',family:SERIF,color:'#111'});T('induced',195,1146,19,{style:'bold',family:SERIF,color:'#111'});
L([[201,1279],[201,1258]],'#f01c1c',2.2);L([[196,1265],[201,1256],[206,1265]],'#f01c1c',2.2);
T('Stable expressed in',207,1289,26.5);T('roots and shoots',207,1314,26.5);

/* ---------- panel letters ---------- */
[['a',42,23],['b',656,20],['c',1261,28],['d',48,590],['e',51,785],['f',48,898],['g',412,900],['h',1246,903]].forEach(a=>T(a[0],a[1],a[2],40,{color:'#111'}));

const chart=echarts.init(document.getElementById('c'),null,{renderer:'canvas',width:2000,height:1331});
chart.setOption({animation:false,backgroundColor:'#fff',grid:grids,xAxis:xAxes,yAxis:yAxes,series:series,graphic:{elements:gfx},tooltip:{show:false},legend:{show:false}});
</script></body></html>
